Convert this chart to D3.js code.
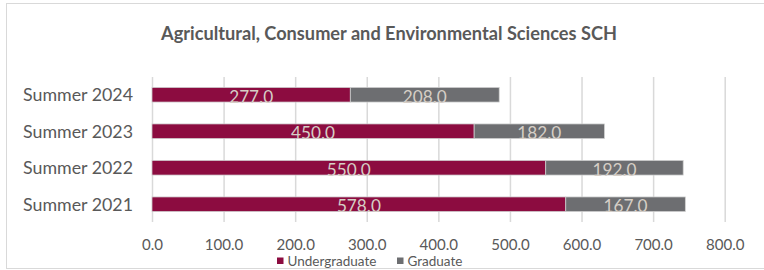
<!DOCTYPE html>
<html><head><meta charset="utf-8">
<script src="https://cdn.jsdelivr.net/npm/d3@7"></script>
<style>html,body{margin:0;padding:0;background:#fff;}svg{display:block;}</style>
</head><body>
<script>
const title = "Agricultural, Consumer and Environmental Sciences SCH";
const categories = ["Summer 2024", "Summer 2023", "Summer 2022", "Summer 2021"];
const undergraduate = [277.0, 450.0, 550.0, 578.0];
const graduate = [208.0, 182.0, 192.0, 167.0];
const seriesNames = ["Undergraduate", "Graduate"];
const seriesColors = ["#8C0C40", "#6D6E71"];
const xTicks = [0, 100, 200, 300, 400, 500, 600, 700, 800];

const W = 764, H = 270;
const font = "Lato, 'Open Sans', sans-serif";
const svg = d3.select("body").append("svg").attr("width", W).attr("height", H);

// scale a selection's font-size so its first node matches a target width
function fit(sel, base, target) {
  sel.attr("font-size", base);
  const w = sel.node().getComputedTextLength();
  sel.attr("font-size", base * target / w);
}

svg.append("rect").attr("x", 6.5).attr("y", 3.5).attr("width", W).attr("height", 265)
  .attr("fill", "#fff").attr("stroke", "#d9d9d9").attr("stroke-width", 1);

const t = svg.append("text").attr("x", 389).attr("y", 40).attr("text-anchor", "middle")
  .attr("font-family", font).attr("font-weight", "bold")
  .attr("fill", "#595959").text(title);
fit(t, 16, 456);

const x = d3.scaleLinear().domain([0, 800]).range([152, 724.7]);
const y = d3.scaleBand().domain(categories).range([76.5, 222.5]).paddingInner(0.6).paddingOuter(0.3);

// gridlines
const xAxis = d3.axisBottom(x).tickValues(xTicks).tickFormat(d3.format(".1f")).tickSize(-(222 - 77)).tickPadding(0);
const gx = svg.append("g").attr("transform", "translate(0,222)").call(xAxis);
gx.select(".domain").remove();
gx.selectAll(".tick line").attr("stroke", "#d9d9d9").attr("stroke-width", 1.5);
const tickTexts = gx.selectAll(".tick text").attr("y", 27.5).attr("dy", null).attr("font-family", font).attr("fill", "#595959");
tickTexts.attr("font-size", 14);
{ const w = tickTexts.filter((d) => d === 100).node().getComputedTextLength(); tickTexts.attr("font-size", 14 * 38.5 / w); }

// category axis
const yAxis = d3.axisLeft(y).tickSize(0).tickPadding(0);
const gy = svg.append("g").attr("transform", "translate(133,0)").call(yAxis);
gy.select(".domain").remove();
const catTexts = gy.selectAll(".tick text").attr("font-family", font).attr("fill", "#595959").attr("dy", "0.36em");
catTexts.attr("font-size", 17);
{ const w = catTexts.node().getComputedTextLength(); catTexts.attr("font-size", 17 * 110 / w); }

// stacked bars
const rows = categories.map((c, i) => ({cat: c, vals: [undergraduate[i], graduate[i]]}));
const labelG = svg.append("g");
const barG = svg.insert("g", () => labelG.node());
rows.forEach(r => {
  let acc = 0;
  r.vals.forEach((v, s) => {
    const x0 = acc, x1 = acc + v; acc = x1;
    barG.append("rect").attr("x", x(x0)).attr("y", y(r.cat)).attr("width", x(x1) - x(x0)).attr("height", y.bandwidth())
      .attr("fill", seriesColors[s]).attr("stroke", "#d0d0d0").attr("stroke-width", 0.75);
    labelG.append("text").attr("x", (x(x0) + x(x1)) / 2).attr("y", y(r.cat) + y.bandwidth() + 0.5)
      .attr("text-anchor", "middle").attr("font-family", font).attr("fill", "#d6cec6")
      .text(d3.format(".1f")(v));
  });
});
const lbls = labelG.selectAll("text");
lbls.attr("font-size", 17);
{ const w = lbls.node().getComputedTextLength(); lbls.attr("font-size", 17 * 44 / w); }

// legend
const legendX = [277, 397];
const legTexts = [];
seriesNames.forEach((n, i) => {
  svg.append("rect").attr("x", legendX[i]).attr("y", 257.5).attr("width", 6.5).attr("height", 6.5).attr("fill", seriesColors[i]);
  legTexts.push(svg.append("text").attr("x", legendX[i] + 10.5).attr("y", 265.5).attr("font-family", font)
    .attr("fill", "#595959").text(n).node());
});
{
  const ls = d3.selectAll(legTexts).attr("font-size", 13);
  const w = legTexts[0].getComputedTextLength(); ls.attr("font-size", 13 * 89 / w);
}
</script>
</body></html>
